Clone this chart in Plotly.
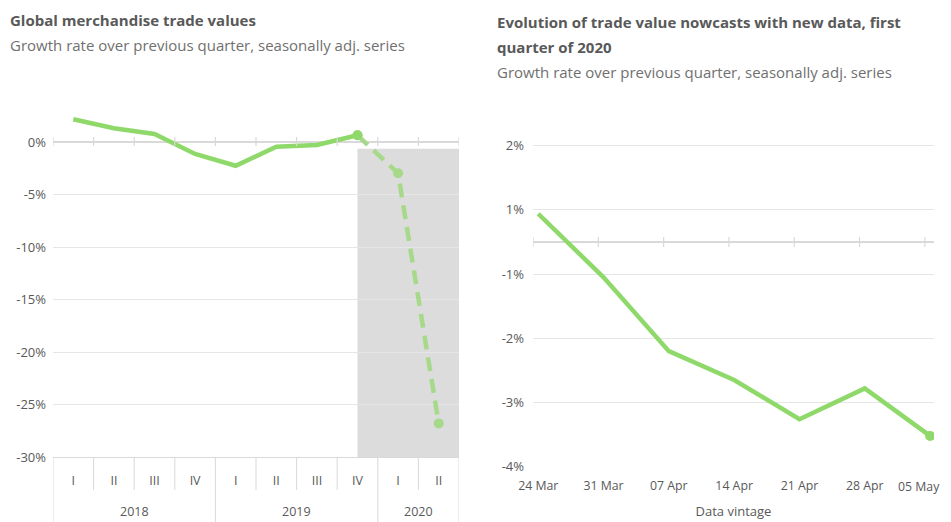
import plotly.graph_objects as go

# Left chart: quarterly growth of global merchandise trade values (%)
years = ["2018"] * 4 + ["2019"] * 4 + ["2020"] * 2
quarters = ["I", "II", "III", "IV", "I", "II", "III", "IV", "I", "II"]
growth = [2.16, 1.31, 0.76, -1.14, -2.26, -0.45, -0.29, 0.64, None, None]
nowcast = [None, None, None, None, None, None, None, 0.64, -2.98, -26.8]

# Right chart: nowcast of Q1 2020 by data vintage (%)
vintages = ["24 Mar", "31 Mar", "07 Apr", "14 Apr", "21 Apr", "28 Apr", "05 May"]
q1_nowcast = [0.44, -0.55, -1.70, -2.15, -2.76, -2.28, -3.02]

left_ticks = [-30, -25, -20, -15, -10, -5, 0]
right_ticks = [-3.5, -2.5, -1.5, -0.5, 0.5, 1.5]
right_labels = ["-4%", "-3%", "-2%", "-1%", "1%", "2%"]

GREEN = "#8fd96a"
GREEN_LIGHT = "#a7d98a"
GRID = "#e6e6e6"
AXIS = "#d9d9d9"
TEXT = "#595959"
SUB = "#707070"
FONT = "Open Sans"

# page body has an 8px margin, so the figure is a bit smaller than the window
OFF = 8
W, H = 951 - OFF, 522 - OFF


def px(x):
    return (x - OFF) / W


def py(y):
    return 1 - (y - OFF) / H


n = len(quarters)
qpos = list(range(n))

fig = go.Figure()

fig.add_trace(go.Scatter(
    x=qpos, y=growth, mode="lines",
    line=dict(color=GREEN, width=4.5), xaxis="x", yaxis="y",
    showlegend=False, hoverinfo="skip"))
fig.add_trace(go.Scatter(
    x=qpos, y=nowcast, mode="lines+markers",
    line=dict(color=GREEN_LIGHT, width=4.5, dash="14px,8px"),
    marker=dict(color=GREEN_LIGHT, size=10), xaxis="x", yaxis="y",
    showlegend=False, hoverinfo="skip"))
# marker on last actual quarter
fig.add_trace(go.Scatter(
    x=qpos[7:8], y=growth[7:8], mode="markers",
    marker=dict(color=GREEN, size=10), xaxis="x", yaxis="y",
    showlegend=False, hoverinfo="skip"))

fig.add_trace(go.Scatter(
    x=vintages, y=q1_nowcast, mode="lines",
    line=dict(color=GREEN, width=4.5), xaxis="x2", yaxis="y2",
    showlegend=False, hoverinfo="skip"))
fig.add_trace(go.Scatter(
    x=vintages[-1:], y=q1_nowcast[-1:], mode="markers",
    marker=dict(color=GREEN, size=10), xaxis="x2", yaxis="y2",
    showlegend=False, hoverinfo="skip"))

plot_bottom = py(457)
shapes = [
    # shaded forecast area
    dict(type="rect", xref="x", yref="y",
         x0=7, x1=n - 0.5, y0=-30, y1=-0.65,
         fillcolor="#dcdcdc", line=dict(width=0), layer="below"),
]
# tick marks on the zero line (left)
for k in range(n + 1):
    shapes.append(dict(type="line", xref="x", yref="y",
                       x0=k - 0.5, x1=k - 0.5, y0=-4, y1=5, ysizemode="pixel",
                       yanchor=0, line=dict(color=AXIS, width=1.2)))
# quarter separators and year dividers below the left axis
year_groups = []
for i, yv in enumerate(years):
    if not year_groups or year_groups[-1][0] != yv:
        year_groups.append([yv, i, i])
    else:
        year_groups[-1][2] = i
bounds = {g[1] - 0.5 for g in year_groups} | {year_groups[-1][2] + 0.5}
for k in range(n + 1):
    b = k - 0.5
    y_end = 0 if b in bounds else py(490)
    shapes.append(dict(type="line", xref="x", yref="paper",
                       x0=b, x1=b, y0=plot_bottom, y1=y_end,
                       line=dict(color=AXIS, width=1)))
# tick marks on the zero line (right)
r_lo = -0.08
for k in range(len(vintages)):
    shapes.append(dict(type="line", xref="x2", yref="y2",
                       x0=k + r_lo, x1=k + r_lo, y0=-5, y1=5,
                       ysizemode="pixel", yanchor=0,
                       line=dict(color=AXIS, width=1.2)))

titles = [
    ("<b>Global merchandise trade values</b>", 8, 8, TEXT),
    ("Growth rate over previous quarter, seasonally adj. series", 8, 33, SUB),
    ("<b>Evolution of trade value nowcasts with new data, first</b>", 495, 10, TEXT),
    ("<b>quarter of 2020</b>", 495, 35, TEXT),
    ("Growth rate over previous quarter, seasonally adj. series", 495, 60, SUB),
]
annotations = [
    dict(text=t, x=px(x), y=py(y), xref="paper", yref="paper",
         xanchor="left", yanchor="top", showarrow=False,
         font=dict(size=15, color=c))
    for t, x, y, c in titles
]
for yv, i0, i1 in year_groups:
    annotations.append(dict(text=yv, x=(i0 + i1) / 2, y=py(511),
                            xref="x", yref="paper", yanchor="middle",
                            showarrow=False,
                            font=dict(size=12.5, color=TEXT)))
# last vintage label kept inside the right edge of the page
annotations.append(dict(text=vintages[-1], x=vintages[-1], y=py(486),
                        xref="x2", yref="paper", xanchor="right",
                        yanchor="middle", xshift=12, showarrow=False,
                        font=dict(size=12.3, color=TEXT)))

fig.update_layout(
    width=W, height=H,
    margin=dict(l=0, r=0, t=0, b=0),
    paper_bgcolor="white", plot_bgcolor="white",
    font=dict(family=FONT, color=TEXT, size=12),
    shapes=shapes, annotations=annotations,
    xaxis=dict(
        domain=[px(53), px(459)], anchor="y", automargin=False,
        range=[-0.5, n - 0.5], tickvals=qpos, ticktext=quarters,
        showgrid=False, zeroline=False, showline=True, linecolor=AXIS,
        ticks="", ticklabelstandoff=12,
        tickfont=dict(size=12.5, color=TEXT), fixedrange=True),
    yaxis=dict(
        domain=[plot_bottom, py(105.25)], anchor="x", automargin=False,
        range=[-30, 3.5], tickvals=left_ticks,
        ticktext=[f"{v}%" for v in left_ticks], showgrid=True,
        gridcolor=GRID, zeroline=True, zerolinecolor=AXIS,
        zerolinewidth=1.5, showline=False, ticks="", ticklabelstandoff=6,
        tickfont=dict(size=13, color=TEXT), fixedrange=True),
    xaxis2=dict(
        domain=[px(533), px(934)], anchor="y2", type="category",
        automargin=False,
        range=[r_lo, len(vintages) - 1 + 0.06], showgrid=False,
        showline=False, ticks="", ticklabelstandoff=10,
        tickvals=vintages, ticktext=vintages[:-1] + [""],
        tickfont=dict(size=12.3, color=TEXT),
        title=dict(text="Data vintage", font=dict(size=13, color=TEXT),
                   standoff=13),
        fixedrange=True),
    yaxis2=dict(
        domain=[py(466.7), py(129.65)], anchor="x2", automargin=False,
        range=[-3.5, 1.75], tickvals=right_ticks, ticktext=right_labels,
        showgrid=True, gridcolor=GRID, zeroline=True, zerolinecolor=AXIS,
        zerolinewidth=1.5, ticks="", ticklabelstandoff=8,
        tickfont=dict(size=13, color=TEXT), fixedrange=True),
)

fig.write_html("out.html")
